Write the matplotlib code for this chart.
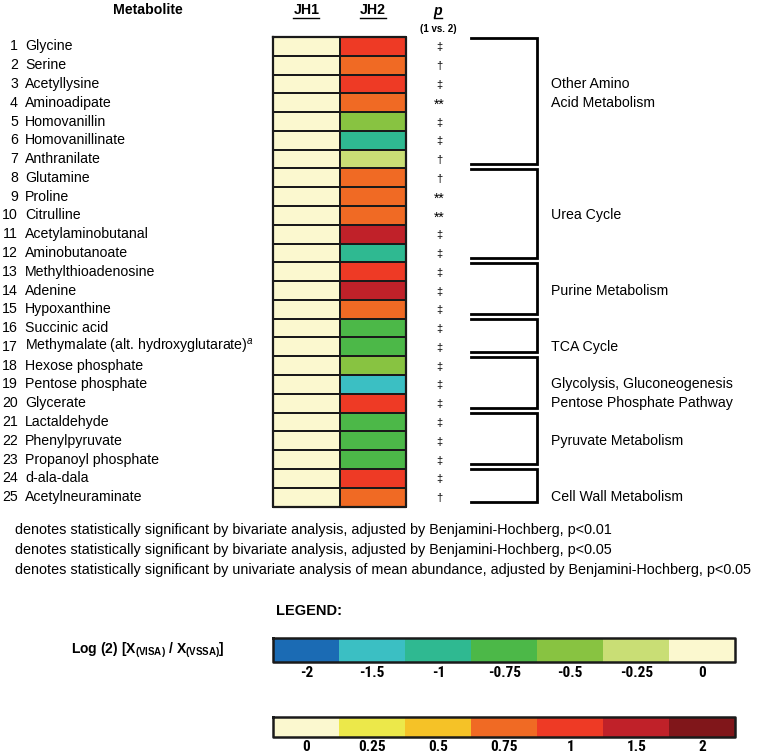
import matplotlib
matplotlib.use("Agg")
import matplotlib.pyplot as plt
import numpy as np
from matplotlib.colors import ListedColormap, BoundaryNorm
from matplotlib import font_manager

plt.rcParams['font.family'] = ['Liberation Sans', 'DejaVu Sans']
plt.rcParams['mathtext.fontset'] = 'custom'
plt.rcParams['mathtext.rm'] = 'Liberation Sans'
plt.rcParams['mathtext.it'] = 'Liberation Sans:italic'
plt.rcParams['mathtext.bf'] = 'Liberation Sans:bold'

# ---------------- data ----------------
metabolites = ["Glycine", "Serine", "Acetyllysine", "Aminoadipate", "Homovanillin",
               "Homovanillinate", "Anthranilate", "Glutamine", "Proline", "Citrulline",
               "Acetylaminobutanal", "Aminobutanoate", "Methylthioadenosine", "Adenine",
               "Hypoxanthine", "Succinic acid", "Methymalate (alt. hydroxyglutarate)$^{a}$",
               "Hexose phosphate", "Pentose phosphate", "Glycerate", "Lactaldehyde",
               "Phenylpyruvate", "Propanoyl phosphate", "d-ala-dala", "Acetylneuraminate"]
jh1 = [0] * 25
jh2 = [1, 0.75, 1, 0.75, -0.5, -1, -0.25, 0.75, 0.75, 0.75, 1.5, -1, 1, 1.5, 0.75,
       -0.75, -0.75, -0.5, -1.5, 1, -0.75, -0.75, -0.75, 1, 0.75]
pvals = ["‡", "†", "‡", "**", "‡", "‡", "†", "†", "**", "**", "‡", "‡", "‡", "‡", "‡",
         "‡", "‡", "‡", "‡", "‡", "‡", "‡", "‡", "‡", "†"]
columns = ["JH1", "JH2"]

group_ranges = [(1, 7), (8, 12), (13, 15), (16, 17), (18, 20), (21, 23), (24, 25)]
group_labels = [["Other Amino", "Acid Metabolism"], ["Urea Cycle"], ["Purine Metabolism"],
                ["TCA Cycle"], ["Glycolysis, Gluconeogenesis", "Pentose Phosphate Pathway"],
                ["Pyruvate Metabolism"], ["Cell Wall Metabolism"]]
group_label_rows = [3, 10, 14, 17, 19, 22, 25]

levels = [-2, -1.5, -1, -0.75, -0.5, -0.25, 0, 0.25, 0.5, 0.75, 1, 1.5, 2]
level_colors = ['#1b6bb4', '#3bbfc3', '#2fb991', '#4cb848', '#88c341', '#c9de75',
                '#fbf8cf', '#ece84a', '#f5c227', '#f06a24', '#ee3a25', '#c02129', '#80161a']
neg_ticks = ["-2", "-1.5", "-1", "-0.75", "-0.5", "-0.25", "0"]
pos_ticks = ["0", "0.25", "0.5", "0.75", "1", "1.5", "2"]

footnotes = [
    "denotes statistically significant by bivariate analysis, adjusted by Benjamini-Hochberg, p<0.01",
    "denotes statistically significant by bivariate analysis, adjusted by Benjamini-Hochberg, p<0.05",
    "denotes statistically significant by univariate analysis of mean abundance, adjusted by Benjamini-Hochberg, p<0.05",
]

# narrow font for legend tick labels, if available
names = {f.name for f in font_manager.fontManager.ttflist}
narrow = None
for cand in ['Liberation Sans Narrow', 'Arial Narrow', 'Roboto Condensed', 'Archivo Narrow',
             'DejaVu Sans Condensed']:
    if cand in names:
        narrow = cand
        break
narrow_family = [narrow, 'Liberation Sans'] if narrow else ['Liberation Sans']

# ---------------- layout ----------------
W, H = 757, 754
fig = plt.figure(figsize=(W / 100, H / 100), dpi=100)
ax = fig.add_axes([0, 0, 1, 1])
ax.set_xlim(0, W)
ax.set_ylim(H, 0)
ax.axis('off')

cmap = ListedColormap(level_colors)
bounds = [-0.5 + i for i in range(len(levels) + 1)]
norm = BoundaryNorm(bounds, cmap.N)

def lvl(v):
    return levels.index(v)

x0, cw = 273.3, 66.2
y0, rh = 37.0, 18.78
n = len(metabolites)
xe = x0 + cw * np.arange(len(columns) + 1)
ye = y0 + rh * np.arange(n + 1)
grid = np.array([[lvl(a), lvl(b)] for a, b in zip(jh1, jh2)])
ax.pcolormesh(xe, ye, grid, cmap=cmap, norm=norm, edgecolors='#1a1a1a', linewidth=1.3)
ax.plot([xe[0], xe[-1], xe[-1], xe[0], xe[0]], [ye[0], ye[0], ye[-1], ye[-1], ye[0]],
        color='#1a1a1a', lw=1.6)

fs = 10.2
for i, (name, p) in enumerate(zip(metabolites, pvals)):
    yc = y0 + rh * (i + 0.5)
    ax.text(18, yc, str(i + 1), ha='right', va='center', fontsize=fs)
    ax.text(25, yc, name, ha='left', va='center', fontsize=fs)
    if p == "**":
        ax.text(439, yc + 2.5, p, ha='center', va='center', fontsize=10)
    else:
        ax.text(439, yc + 1, p, ha='center', va='center', fontsize=8)

# headers
ax.text(148, 10, "Metabolite", ha='center', va='center', fontsize=fs, fontweight='bold')
for j, c in enumerate(columns):
    xc = x0 + cw * (j + 0.5)
    ax.text(xc, 10, c, ha='center', va='center', fontsize=fs, fontweight='bold')
    ax.plot([xc - 13, xc + 13], [18, 18], color='black', lw=1.0)
ax.text(438, 11, "p", ha='center', va='center', fontsize=fs, fontweight='bold', fontstyle='italic')
ax.plot([434, 442], [18, 18], color='black', lw=1.0)
ax.text(438, 29, "(1 vs. 2)", ha='center', va='center', fontsize=7, fontweight='bold')

# brackets
bx0, bx1 = 471, 537
for (a, b), labs, lr in zip(group_ranges, group_labels, group_label_rows):
    yt = ye[a - 1] + 0.5
    yb = ye[b] - 4.5
    ax.plot([bx0, bx1, bx1, bx0], [yt, yt, yb, yb], color='black', lw=2.0,
            solid_joinstyle='miter')
    for k, lab in enumerate(labs):
        ax.text(551, y0 + rh * (lr - 0.5 + k), lab, ha='left', va='center', fontsize=fs)

# footnotes
for k, t in enumerate(footnotes):
    ax.text(15, 530 + 20 * k, t, ha='left', va='center', fontsize=10.4)

# legend
ax.text(276, 611, "LEGEND:", ha='left', va='center', fontsize=10.5, fontweight='bold')
ax.text(148, 650, r"Log (2) [X$_{\mathbf{(VISA)}}$ / X$_{\mathbf{(VSSA)}}$]", ha='center',
        va='center', fontsize=10, fontweight='bold')

lx0, lw_ = 273.3, 66.0
lxe = lx0 + lw_ * np.arange(8)
for (yt, yb, ticks, ly) in [(638, 662, neg_ticks, 673), (717, 737, pos_ticks, 747)]:
    vals = np.array([[lvl(float(t)) for t in ticks]])
    ax.pcolormesh(lxe, [yt, yb], vals, cmap=cmap, norm=norm)
    ax.plot([lxe[0], lxe[-1], lxe[-1], lxe[0], lxe[0]], [yt, yt, yb, yb, yt],
            color='#1a1a1a', lw=1.8)
    for k, t in enumerate(ticks):
        ax.text(lx0 + lw_ * (k + 0.5), ly, t, ha='center', va='center', fontsize=11,
                fontweight='bold', family=narrow_family)

fig.savefig("out.png", dpi=100)
